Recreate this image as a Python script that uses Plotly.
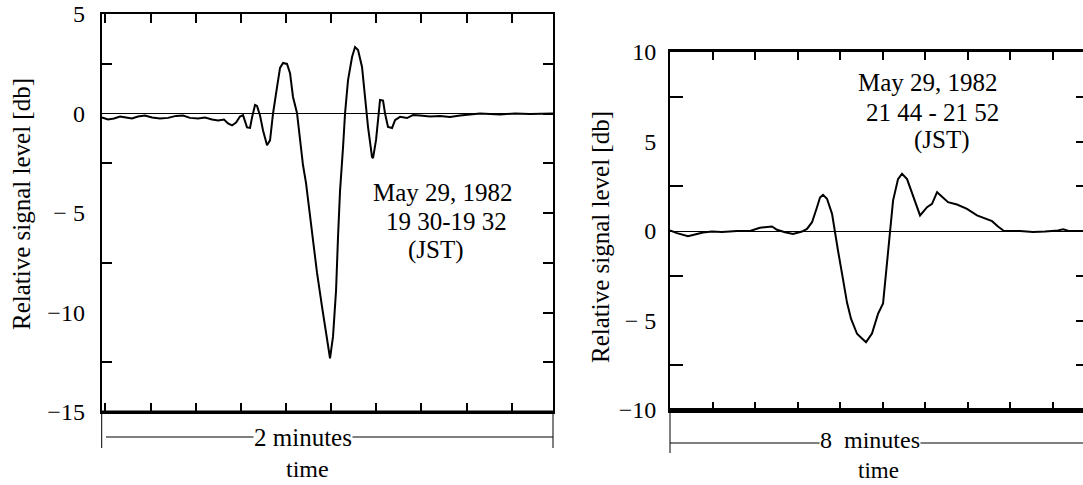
import plotly.graph_objects as go

# ---------------- data ----------------
# Left panel: 2-minute record, time in seconds
left_t = [0.08, 1.68, 3.27, 4.87, 6.46, 8.06, 9.65, 11.51, 13.38, 15.50, 17.63, 19.76, 21.62, 23.48,
          25.61, 27.47, 29.33, 30.93, 32.52, 33.59, 34.65, 35.72, 36.78, 37.58, 38.64, 39.44, 39.97,
          40.77, 41.30, 42.10, 42.90, 43.96, 44.76, 45.56, 46.62, 47.42, 48.22, 49.28, 50.08, 50.87,
          51.93, 52.73, 53.53, 54.33, 55.12, 55.92, 57.25, 58.58, 59.91, 60.71, 61.51, 62.31, 62.84,
          63.37, 64.17, 64.70, 65.50, 66.57, 67.36, 68.16, 69.22, 70.02, 70.82, 71.88, 72.15, 72.95,
          73.48, 74.01, 74.81, 75.34, 76.13, 77.20, 77.99, 79.32, 81.18, 82.78, 84.64, 87.30, 89.96,
          92.62, 95.28, 97.94, 100.60, 103.26, 105.92, 109.90, 113.89, 120.0]
left_db = [-0.2, -0.3, -0.25, -0.15, -0.2, -0.25, -0.15, -0.1, -0.2, -0.25, -0.22, -0.12, -0.1, -0.22,
           -0.25, -0.2, -0.3, -0.35, -0.3, -0.5, -0.6, -0.45, -0.15, -0.08, -0.7, -0.72, -0.2,
           0.43, 0.38, -0.1, -0.85, -1.6, -1.35, 0.0, 1.33, 2.29, 2.54, 2.49, 2.03, 0.83,
           0.03, -1.35, -2.6, -3.5, -4.7, -5.85, -8.0, -9.7, -11.4, -12.3, -11.2, -8.9, -6.2,
           -3.9, -1.7, 0.0, 1.68, 2.84, 3.34, 3.19, 2.34, 0.83, -0.68, -2.19, -2.24, -1.33,
           -0.17, 0.68, 0.65, 0.0, -0.68, -0.73, -0.33, -0.17, -0.23, -0.08, -0.1, -0.15, -0.12,
           -0.18, -0.1, -0.05, 0.0, -0.02, -0.05, 0.0, -0.03, 0.0]

# Right panel: 8-minute record, time in seconds
right_t = [0.0, 7.9, 20.3, 30.5, 37.3, 47.4, 58.7, 75.7, 90.4, 101.6, 109.6, 115.2, 120.8, 129.9,
           138.9, 149.1, 154.7, 160.4, 166.0, 169.4, 172.8, 177.3, 183.0, 186.4, 189.7, 195.4,
           199.9, 204.4, 211.2, 216.8, 221.4, 228.1, 234.9, 240.6, 245.1, 248.5, 251.9, 257.5,
           262.0, 267.7, 273.3, 282.4, 290.3, 295.9, 301.6, 308.3, 314.0, 324.1, 335.4, 346.7,
           353.5, 363.7, 370.4, 375.0, 377.2, 395.3, 410.0, 423.5, 438.2, 443.9, 449.5, 466.4]
right_db = [0.03, -0.12, -0.29, -0.14, -0.08, -0.03, -0.05, 0.0, 0.0, 0.18, 0.2, 0.25, 0.07, -0.07,
            -0.16, -0.03, 0.12, 0.49, 1.33, 1.87, 2.02, 1.8, 0.96, 0.03, -1.09, -2.7,
            -4.0, -4.9, -5.74, -6.0, -6.21, -5.73, -4.63, -4.05, -1.6, 0.03, 1.7, 2.9,
            3.2, 2.9, 2.08, 0.87, 1.33, 1.52, 2.17, 1.89, 1.61, 1.48, 1.24, 0.87,
            0.74, 0.55, 0.25, 0.08, 0.0, 0.0, -0.05, -0.03, 0.03, 0.1, 0.02, 0.0]

left_ticklabels = ["5", "0", "\u2212 5", "\u221210", "\u221215"]
left_tickvals = [5, 0, -5, -10, -15]
right_ticklabels = ["10", "5", "0", "\u2212 5", "\u221210"]
right_tickvals = [10, 5, 0, -5, -10]

left_note = ["May 29, 1982", "19 30-19 32", "(JST)"]
right_note = ["May 29, 1982", "21 44 - 21 52", "(JST)"]

# ---------------- layout helpers ----------------
W, H = 1083, 485
FONT = "Liberation Serif, Times New Roman, serif"


def px(x):
    return x / W


def py(y):
    return 1 - y / H


L_left, L_right, L_top, L_bot = 101.7, 553.0, 14.0, 412.0
R_left, R_right, R_top, R_bot = 670.0, 1083.0, 52.0, 410.0

fig = go.Figure()
fig.add_trace(go.Scatter(x=left_t, y=left_db, mode="lines", xaxis="x", yaxis="y",
                         line=dict(color="black", width=2), showlegend=False, hoverinfo="skip"))
fig.add_trace(go.Scatter(x=right_t, y=right_db, mode="lines", xaxis="x2", yaxis="y2",
                         line=dict(color="black", width=2), showlegend=False, hoverinfo="skip"))
# placeholder traces so the right-side tick axes render
fig.add_trace(go.Scatter(x=[None], y=[None], xaxis="x", yaxis="y3", showlegend=False, hoverinfo="skip"))
fig.add_trace(go.Scatter(x=[None], y=[None], xaxis="x2", yaxis="y4", showlegend=False, hoverinfo="skip"))

tickfont = dict(family=FONT, size=24, color="black")

fig.update_layout(
    template="none",
    width=W, height=H, autosize=False,
    margin=dict(l=0, r=0, t=0, b=0, pad=0),
    paper_bgcolor="white", plot_bgcolor="white",
    font=dict(family=FONT, color="black"),
    xaxis=dict(domain=[px(L_left), px(L_right)], anchor="y", range=[0, 120], automargin=False,
               tick0=1, dtick=12, ticks="inside", ticklen=9, tickwidth=2, tickcolor="black",
               showticklabels=False, showline=True, linewidth=2, linecolor="black",
               mirror="ticks", showgrid=False, zeroline=False),
    yaxis=dict(domain=[py(L_bot), py(L_top)], anchor="x", range=[-15, 5], automargin=False,
               tickmode="array", tickvals=left_tickvals, ticktext=left_ticklabels,
               ticks="", tickfont=tickfont, ticklabelstandoff=10,
               minor=dict(tickmode="array", tickvals=[2.5, -2.5, -7.5, -12.5], ticks="inside",
                          ticklen=10, tickwidth=2, tickcolor="black", showgrid=False),
               showline=True, linewidth=2, linecolor="black", mirror=True,
               showgrid=False, zeroline=True, zerolinecolor="black", zerolinewidth=1),
    yaxis3=dict(overlaying="y", anchor="x", side="right", range=[-15, 5], automargin=False,
                tickmode="array", tickvals=[2.5, 0, -2.5, -5, -7.5, -10, -12.5],
                ticks="inside", ticklen=10, tickwidth=2, tickcolor="black",
                showticklabels=False, showline=False, showgrid=False, zeroline=False),
    xaxis2=dict(domain=[px(R_left), px(R_right)], anchor="y2", range=[0, 466.4], automargin=False,
                tick0=0, dtick=48, ticks="inside", ticklen=8, tickwidth=2, tickcolor="black",
                showticklabels=False, showline=True, linewidth=3, linecolor="black",
                mirror="ticks", showgrid=False, zeroline=False),
    yaxis2=dict(domain=[py(R_bot), py(R_top)], anchor="x2", range=[-10, 10], automargin=False,
                tickmode="array", tickvals=right_tickvals, ticktext=right_ticklabels,
                ticks="", tickfont=tickfont, ticklabelstandoff=7,
                minor=dict(tickmode="array", tickvals=[7.5, 2.5, -2.5, -7.5], ticks="inside",
                           ticklen=13, tickwidth=2, tickcolor="black", showgrid=False),
                showline=True, linewidth=2, linecolor="black", mirror=False,
                showgrid=False, zeroline=True, zerolinecolor="black", zerolinewidth=1),
    yaxis4=dict(overlaying="y2", anchor="x2", side="right", range=[-10, 10], automargin=False,
                tickmode="array", tickvals=[7.5, 5, 2.5, -2.5, -5, -7.5],
                ticks="inside", ticklen=7, tickwidth=2, tickcolor="black",
                showticklabels=False, showline=False, showgrid=False, zeroline=False),
)

# thicker bottom axis lines
fig.add_shape(type="line", xref="x domain", yref="y domain", x0=0, x1=1, y0=0, y1=0,
              line=dict(color="black", width=3))
fig.add_shape(type="line", xref="x2 domain", yref="y2 domain", x0=0, x1=1, y0=0, y1=0,
              line=dict(color="black", width=4))

# time-span brackets under each panel
thin = dict(color="black", width=1)
fig.add_shape(type="line", xref="paper", yref="paper", x0=px(L_left), x1=px(L_left),
              y0=py(412), y1=py(448), line=thin)
fig.add_shape(type="line", xref="paper", yref="paper", x0=px(L_right), x1=px(L_right),
              y0=py(412), y1=py(448), line=thin)
fig.add_shape(type="line", xref="paper", yref="paper", x0=px(106), x1=px(L_right),
              y0=py(437), y1=py(437), line=thin)
fig.add_shape(type="line", xref="paper", yref="paper", x0=px(R_left), x1=px(R_left),
              y0=py(410), y1=py(453), line=thin)
fig.add_shape(type="line", xref="paper", yref="paper", x0=px(R_left), x1=px(1083),
              y0=py(443), y1=py(443), line=thin)


def note(text, x, y, size=25, bg=None, angle=0, pad=1):
    fig.add_annotation(text=text, x=px(x), y=py(y), xref="paper", yref="paper",
                       showarrow=False, xanchor="center", yanchor="middle", textangle=angle,
                       font=dict(family=FONT, size=size, color="black"),
                       bgcolor=bg, borderpad=pad)


note("2 minutes", 303, 437, size=25, bg="white", pad=0)
note("time", 307, 469, size=24, pad=0)
note("8&nbsp; minutes", 870, 440, size=24, bg="white", pad=0)
note("time", 878, 470, size=23, pad=0)

note("Relative signal level [db]", 21, 204, size=25, angle=-90)
note("Relative signal level [db]", 600, 237, size=25, angle=-90)

for txt, x, y in zip(left_note, [443, 446, 436], [193, 222, 250]):
    note(txt, x, y)
for txt, x, y in zip(right_note, [928, 932, 942], [82, 112, 140]):
    note(txt, x, y)

fig.write_html("out.html")
